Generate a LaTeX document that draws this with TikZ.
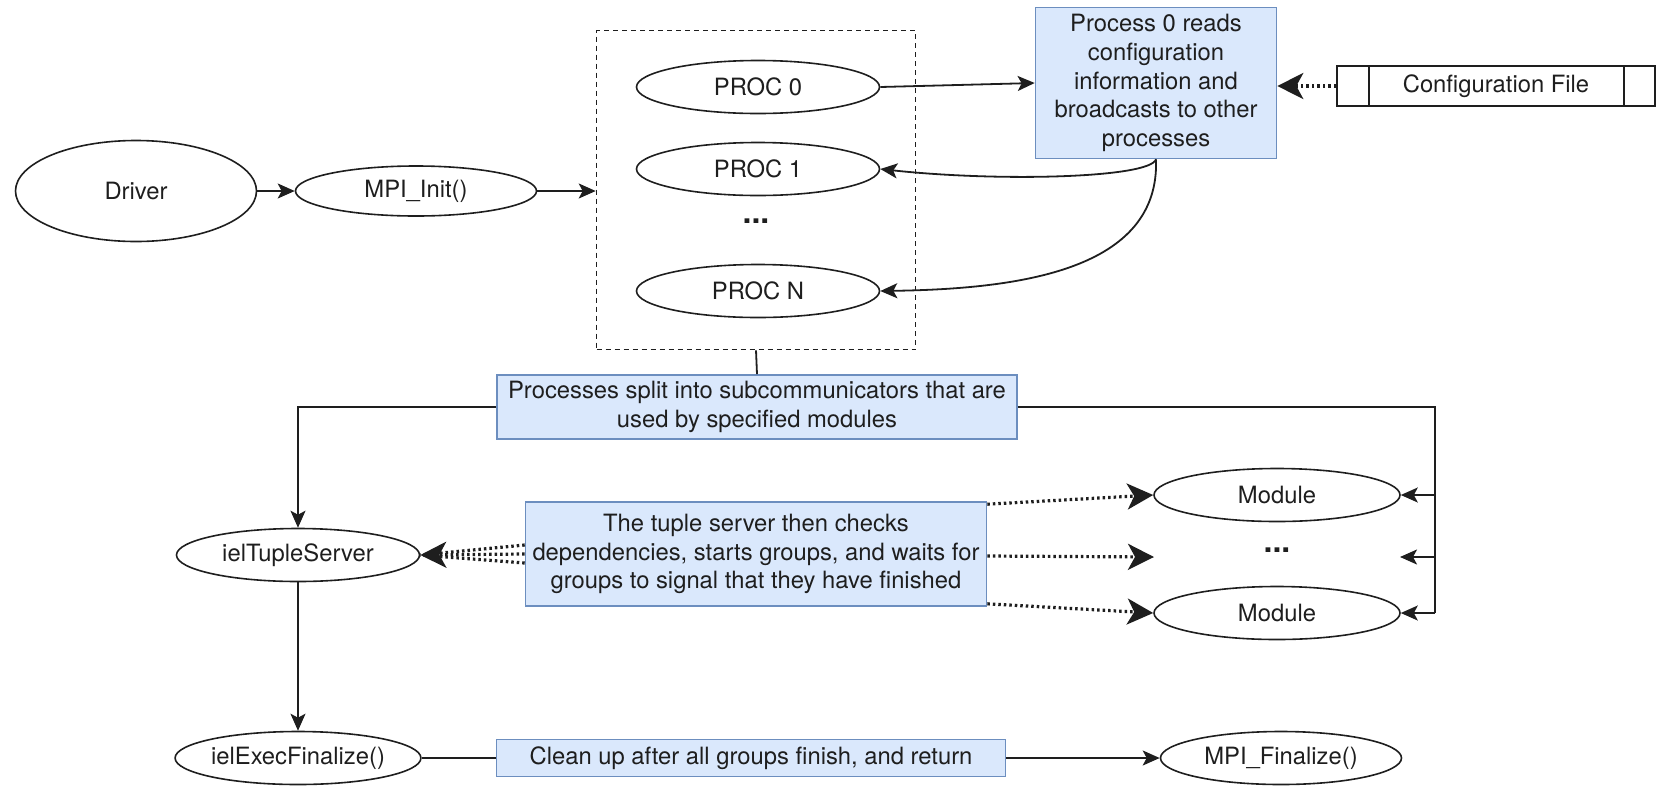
\documentclass[tikz,border=0pt]{standalone}
\usepackage{fontspec}
\setmainfont{TeX Gyre Heros}
\usetikzlibrary{arrows.meta,shapes.geometric,calc}
\definecolor{notefill}{HTML}{DAE8FC}
\definecolor{notedraw}{HTML}{6C8EBF}
\definecolor{ink}{HTML}{1E1E1E}
\begin{document}
\begin{tikzpicture}[x=1pt,y=-1pt,
  every node/.style={font=\fontsize{23.8}{28.9}\selectfont, text=ink, align=center},
  oval/.style={draw=ink, ellipse, line width=1.6pt, inner sep=0pt},
  note/.style={draw=notedraw, fill=notefill, line width=1.6pt, inner sep=0pt},
  conn/.style={draw=ink, line width=1.8pt, -{Stealth[length=17pt,width=15pt,inset=4pt]}},
  plain/.style={draw=ink, line width=1.8pt},
  dotconn/.style={draw=ink, line width=3.2pt, dash pattern=on 2.5pt off 3pt, -{Stealth[length=26pt,width=26pt,inset=7pt]}},
  dotline/.style={draw=ink, line width=3.2pt, dash pattern=on 2.5pt off 3pt},
  dotsym/.style={font=\fontsize{32}{32}\selectfont\bfseries}
]
\useasboundingbox (0,0) rectangle (1657,788);

% top row
\node[oval, minimum width=241pt, minimum height=101pt] (drv) at (136,191) {Driver};
\node[oval, minimum width=241pt, minimum height=50pt] (mpi) at (416,191) {MPI\_Init()};
\node[draw=ink, line width=1.6pt, dash pattern=on 5pt off 4pt, minimum width=319pt, minimum height=319pt, inner sep=0pt] (grp) at (756,190) {};
\node[oval, minimum width=243pt, minimum height=53pt] (p0) at (758,87) {PROC 0};
\node[oval, minimum width=243pt, minimum height=53pt] (p1) at (758,169) {PROC 1};
\node[dotsym] (pdots) at (756,221) {...};
\node[oval, minimum width=243pt, minimum height=53pt] (pn) at (758,291) {PROC N};
\node[note, minimum width=241pt, minimum height=151pt] (bc) at (1156,83) {Process 0 reads\\configuration\\information and\\broadcasts to other\\processes};
\node[draw=ink, line width=1.6pt, minimum width=318pt, minimum height=40pt, inner sep=0pt] (cfg) at (1496,86) {Configuration File};
\draw[plain] (1369,66) -- (1369,106);
\draw[plain] (1624,66) -- (1624,106);

\draw[conn] (drv.east) -- (mpi.west);
\draw[conn] (mpi.east) -- (mpi.east -| grp.west);
\draw[conn] (p0.east) -- (bc.west);
\draw[dotconn] (cfg.west) -- (cfg.west -| bc.east);
\draw[conn] (bc.south) .. controls (1150,178) and (1000,182) .. (p1.east);
\draw[conn] (bc.south) .. controls (1160,270) and (1020,289) .. (pn.east);

% middle
\node[note, minimum width=520pt, minimum height=64pt] (split) at (757,407) {Processes split into subcommunicators that are\\used by specified modules};
\draw[plain] (grp.south) -- (split.north);
\node[oval, minimum width=243pt, minimum height=53pt] (tsrv) at (298,555) {ielTupleServer};
\draw[conn] (split.west) -| (tsrv.north);
\node[note, minimum width=461pt, minimum height=104pt] (tup) at (756,554) {The tuple server then checks\\dependencies, starts groups, and waits for\\groups to signal that they have finished};
\node[oval, minimum width=246pt, minimum height=53pt] (m1) at (1277,495) {Module};
\node[dotsym] (mdots) at (1277,550) {...};
\node[oval, minimum width=246pt, minimum height=53pt] (m2) at (1277,613) {Module};
\coordinate (rv) at (1435,613);
\coordinate (mdw) at (1154,557);
\coordinate (mde) at (1400,557);
\draw[plain] (split.east) -| (rv);
\draw[conn] (m1.east -| rv) -- (m1.east);
\draw[conn] (mde -| rv) -- (mde);
\draw[conn] (rv) -- (m2.east);

\draw[dotline] ($(tup.west)+(0,-9)$) -- (tsrv.east);
\draw[dotline] ($(tup.west)+(0,9)$) -- (tsrv.east);
\draw[dotconn] (tup.west) -- (tsrv.east);
\draw[dotconn] ($(tup.north east)+(0,3)$) -- (m1.west);
\draw[dotconn] ($(tup.east)+(0,2)$) -- (mdw);
\draw[dotconn] ($(tup.south east)+(0,-3)$) -- (m2.west);

% bottom
\node[oval, minimum width=243pt, minimum height=53pt] (efin) at (298,758) {ielExecFinalize()};
\node[note, minimum width=509pt, minimum height=37pt] (clean) at (751,758) {Clean up after all groups finish, and return};
\node[oval, minimum width=241pt, minimum height=53pt] (mfin) at (1281,758) {MPI\_Finalize()};
\draw[conn] (tsrv.south) -- (efin.north);
\draw[plain] (efin.east) -- (clean.west);
\draw[conn] (clean.east) -- (mfin.west);
\end{tikzpicture}
\end{document}
